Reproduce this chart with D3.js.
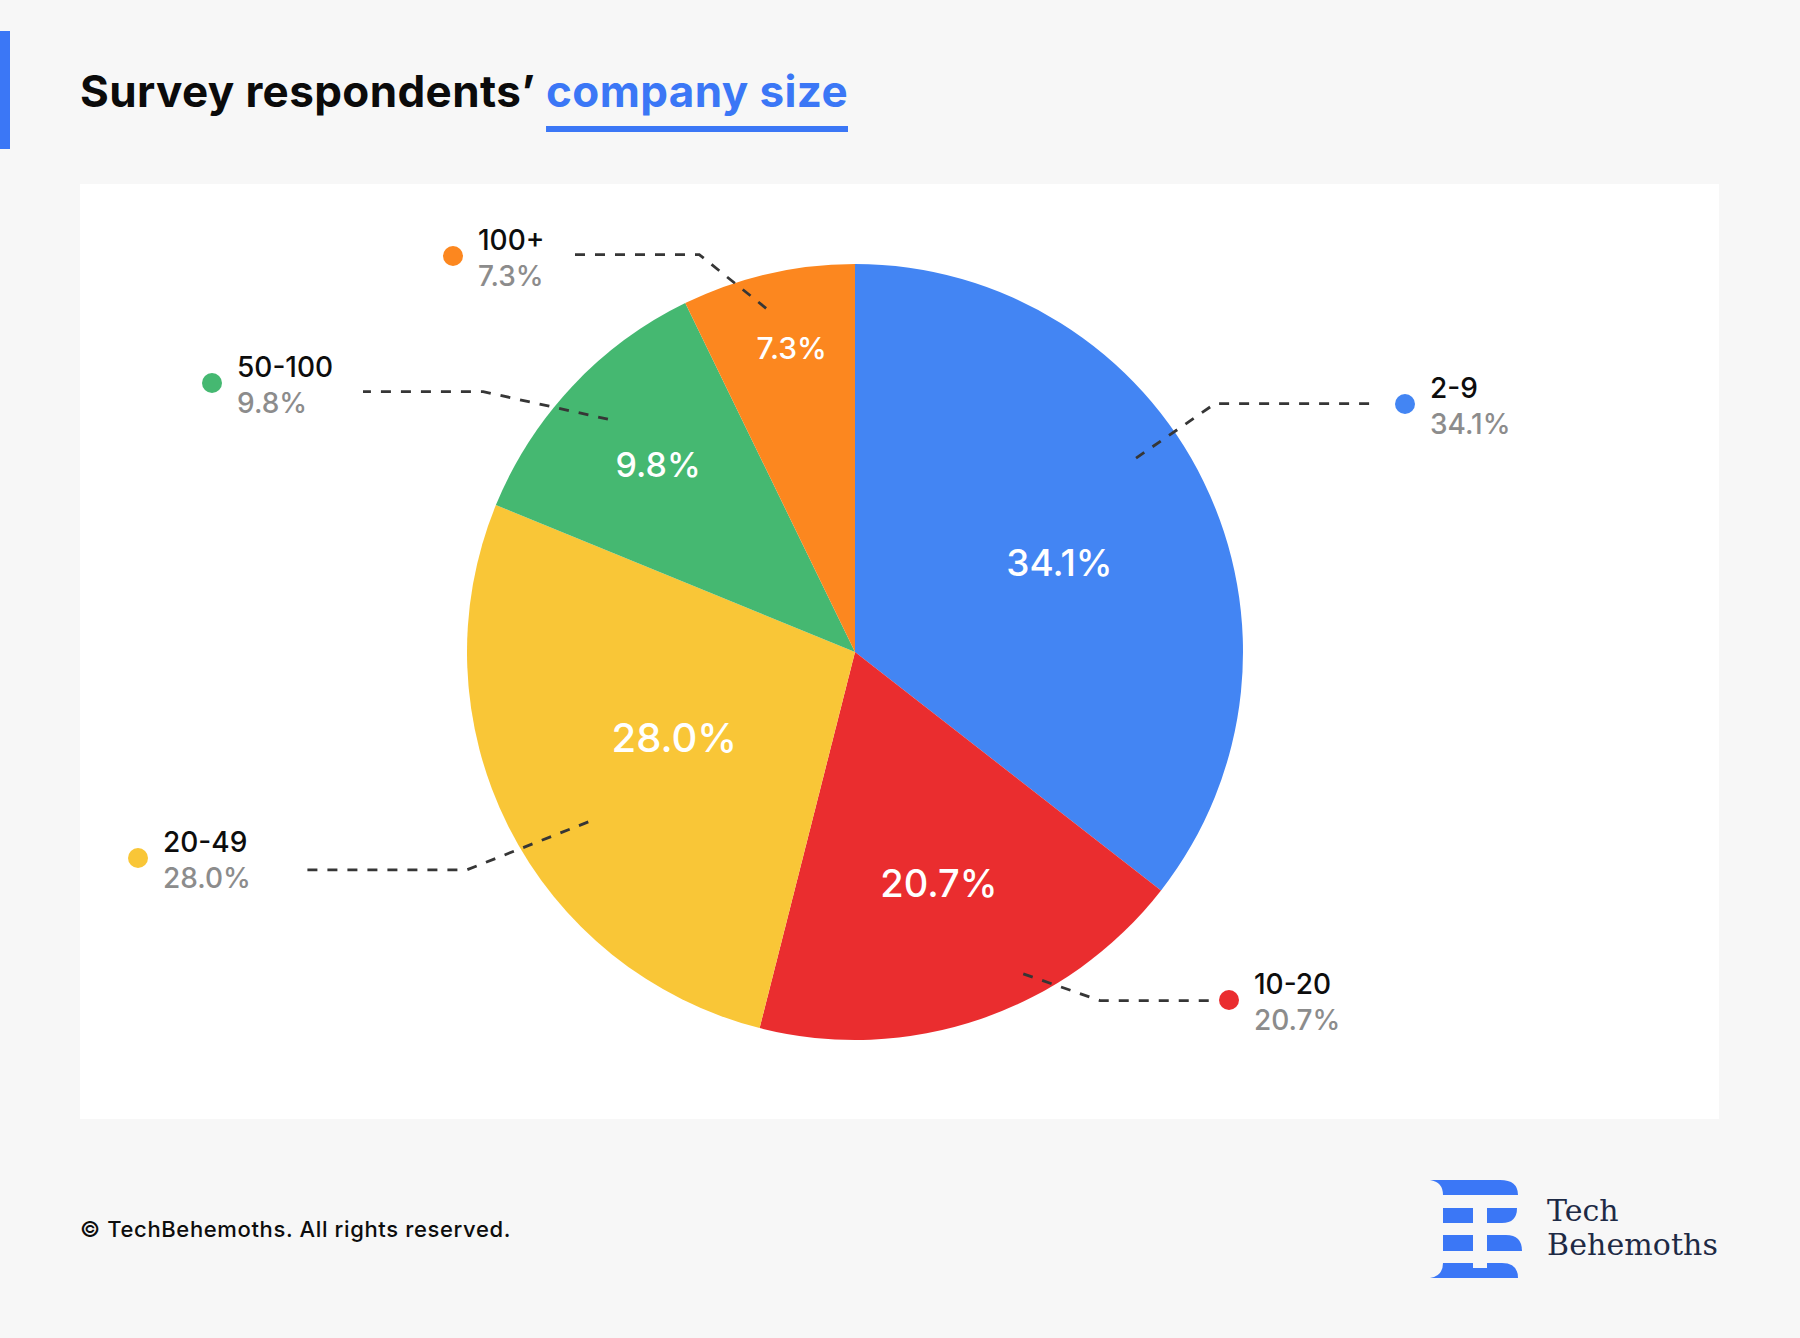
<!DOCTYPE html>
<html>
<head>
<meta charset="utf-8">
<script src="https://cdn.jsdelivr.net/npm/d3@7"></script>
<style>
  html, body { margin: 0; padding: 0; background: #f7f7f7; }
  svg { display: block; }
</style>
</head>
<body>
<svg id="chart" width="1800" height="1338"></svg>
<script>
// ---------------- DATA ----------------
const categories   = ["2-9", "10-20", "20-49", "50-100", "100+"];
const labelValues  = [34.1, 20.7, 28.0, 9.8, 7.3];      // percentages printed on the chart
const sliceShares  = [35.5, 18.4, 27.2, 11.6, 7.2];     // angular shares of the slices as drawn
const sliceColors  = ["#4385f3", "#ea2d2f", "#f9c637", "#45b871", "#fc871f"];
const titleParts   = ["Survey respondents\u2019 ", "company size"];
const footerText   = "\u00a9 TechBehemoths. All rights reserved.";
const brandLines   = ["Tech", "Behemoths"];

// ---------------- LAYOUT ----------------
const W = 1800, H = 1338;
const cx = 855, cy = 652, R = 388;
const BLUE = "#3b77f6";
const FONT = "Inter, 'Noto Sans', sans-serif";

// inner label radius (fraction of R), angular nudge (deg) and font size per category
const innerLabelLayout = {
  "2-9":    { r: 0.575, da: 2.4,  size: 37 },
  "10-20":  { r: 0.635, da: -1.0, size: 38 },
  "20-49":  { r: 0.515, da: 1.5,  size: 40 },
  "50-100": { r: 0.70,  da: 0.4,  size: 34 },
  "100+":   { r: 0.80,  da: 1.2,  size: 30 }
};
// leader lines: polar start/knee [degrees clockwise from top, fraction of R], horizontal end x, legend dot position
const leaderLayout = {
  "2-9":    { start: [55.4, 0.88],  knee: [55.4, 1.127], endX: 1370, dot: [1405, 404] },
  "10-20":  { start: [152.4, 0.936], knee: [144.9, 1.098], endX: 1215, dot: [1229, 1000] },
  "20-49":  { start: [237.5, 0.815], knee: [240.7, 1.147], endX: 307,  dot: [138, 858] },
  "50-100": { start: [313.3, 0.875], knee: [305.0, 1.17],  endX: 363,  dot: [212, 383] },
  "100+":   { start: [345.5, 0.915], knee: [338.6, 1.10],  endX: 574,  dot: [453, 256] }
};

const slices = categories.map((c, i) => ({
  category: c, label: labelValues[i], share: sliceShares[i], color: sliceColors[i]
}));

const svg = d3.select("#chart");
const fmt = v => d3.format(".1f")(v) + "%";

function fitWidth(sel, target) {
  const node = sel.node();
  const len = node.getComputedTextLength();
  const n = node.getNumberOfChars();
  const ls = (target - len) / n;
  sel.attr("letter-spacing", ls.toFixed(3));
}

// background
svg.append("rect").attr("width", W).attr("height", H).attr("fill", "#f7f7f7");
// accent bar
svg.append("rect").attr("x", 0).attr("y", 31).attr("width", 10).attr("height", 118).attr("fill", BLUE);

// title
const title = svg.append("text")
  .attr("x", 80).attr("y", 107)
  .attr("font-family", FONT).attr("font-weight", 700).attr("font-size", 44)
  .attr("fill", "#0b0b0b");
title.append("tspan").text(titleParts[0]);
title.append("tspan").attr("fill", BLUE).text(titleParts[1]);
fitWidth(title, 768);
{
  const node = title.node();
  const startIdx = titleParts[0].length;
  const endIdx = startIdx + titleParts[1].length - 1;
  const x0 = node.getStartPositionOfChar(startIdx).x;
  const x1 = node.getEndPositionOfChar(endIdx).x;
  svg.append("rect").attr("x", x0).attr("y", 126).attr("width", Math.min(x1, 848) - x0).attr("height", 6).attr("fill", BLUE);
}

// white panel
svg.append("rect").attr("x", 80).attr("y", 184).attr("width", 1639).attr("height", 935).attr("fill", "#ffffff");

// pie
const pie = d3.pie().sort(null).value(d => d.share).startAngle(0).endAngle(2 * Math.PI);
const arc = d3.arc().innerRadius(0).outerRadius(R);
const arcs = pie(slices);

const g = svg.append("g").attr("transform", `translate(${cx},${cy})`);
g.selectAll("path.slice").data(arcs).join("path")
  .attr("class", "slice")
  .attr("d", arc)
  .attr("fill", d => d.data.color);

const rad = deg => deg * Math.PI / 180;

// inner labels
g.selectAll("text.inner").data(arcs).join("text")
  .attr("class", "inner")
  .each(function (d) {
    const lay = innerLabelLayout[d.data.category];
    const mid = (d.startAngle + d.endAngle) / 2 + rad(lay.da);
    const [x, y] = d3.pointRadial(mid, R * lay.r);
    d3.select(this).attr("x", x).attr("y", y).attr("font-size", lay.size);
  })
  .attr("text-anchor", "middle")
  .attr("dy", "0.36em")
  .attr("font-family", FONT).attr("font-weight", 500)
  .attr("fill", "#ffffff")
  .text(d => fmt(d.data.label));

// leader lines
const line = d3.line();
g.selectAll("path.leader").data(arcs).join("path")
  .attr("class", "leader")
  .attr("d", d => {
    const L = leaderLayout[d.data.category];
    const p0 = d3.pointRadial(rad(L.start[0]), R * L.start[1]);
    const p1 = d3.pointRadial(rad(L.knee[0]), R * L.knee[1]);
    const p2 = [L.endX - cx, p1[1]];
    return line([p0, p1, p2]);
  })
  .attr("fill", "none")
  .attr("stroke", "#363636")
  .attr("stroke-width", 2.8)
  .attr("stroke-dasharray", "10,10");

// callouts
const callouts = svg.selectAll("g.callout").data(slices).join("g")
  .attr("class", "callout")
  .attr("transform", d => `translate(${leaderLayout[d.category].dot[0]},${leaderLayout[d.category].dot[1]})`);
callouts.append("circle").attr("r", 10).attr("fill", d => d.color);
callouts.append("text")
  .attr("x", 25).attr("y", -6)
  .attr("font-family", FONT).attr("font-weight", 500).attr("font-size", 28)
  .attr("fill", "#0d0d0d")
  .text(d => d.category);
callouts.append("text")
  .attr("x", 25).attr("y", 30)
  .attr("font-family", FONT).attr("font-weight", 500).attr("font-size", 28)
  .attr("fill", "#8c8c8c")
  .text(d => fmt(d.label));

// footer
const foot = svg.append("text")
  .attr("x", 80).attr("y", 1237)
  .attr("font-family", FONT).attr("font-weight", 500).attr("font-size", 22)
  .attr("fill", "#0d0d0d")
  .text(footerText);
fitWidth(foot, 431);

// logo mark
const logo = svg.append("g").attr("transform", "translate(1430,1180)").attr("fill", BLUE);
const logoPaths = [
  "M0,0 L70,0 Q88,0 88,15 L13,15 Q13,2 0,0 Z",
  "M13,28 L43,28 L43,43 L13,43 Z",
  "M57,28 L87,28 Q87,43 72,43 L57,43 Z",
  "M13,55 L43,55 L43,71 L13,71 Z",
  "M57,55 L76,55 Q92,55 92,71 L57,71 Z",
  "M13,83 L43,83 L43,88 L57,88 L57,83 L72,83 Q88,83 88,98 L0,98 Q13,96 13,83 Z"
];
logo.selectAll("path").data(logoPaths).join("path").attr("d", d => d);

// brand text
const brand = svg.append("g").attr("font-family", "'DejaVu Serif', serif").attr("fill", "#1e2a45");
brand.append("text").attr("x", 1547).attr("y", 1221).attr("font-size", 30).text(brandLines[0]);
const b2 = brand.append("text").attr("x", 1547).attr("y", 1255).attr("font-size", 30).text(brandLines[1]);
fitWidth(b2, 171);
</script>
</body>
</html>
